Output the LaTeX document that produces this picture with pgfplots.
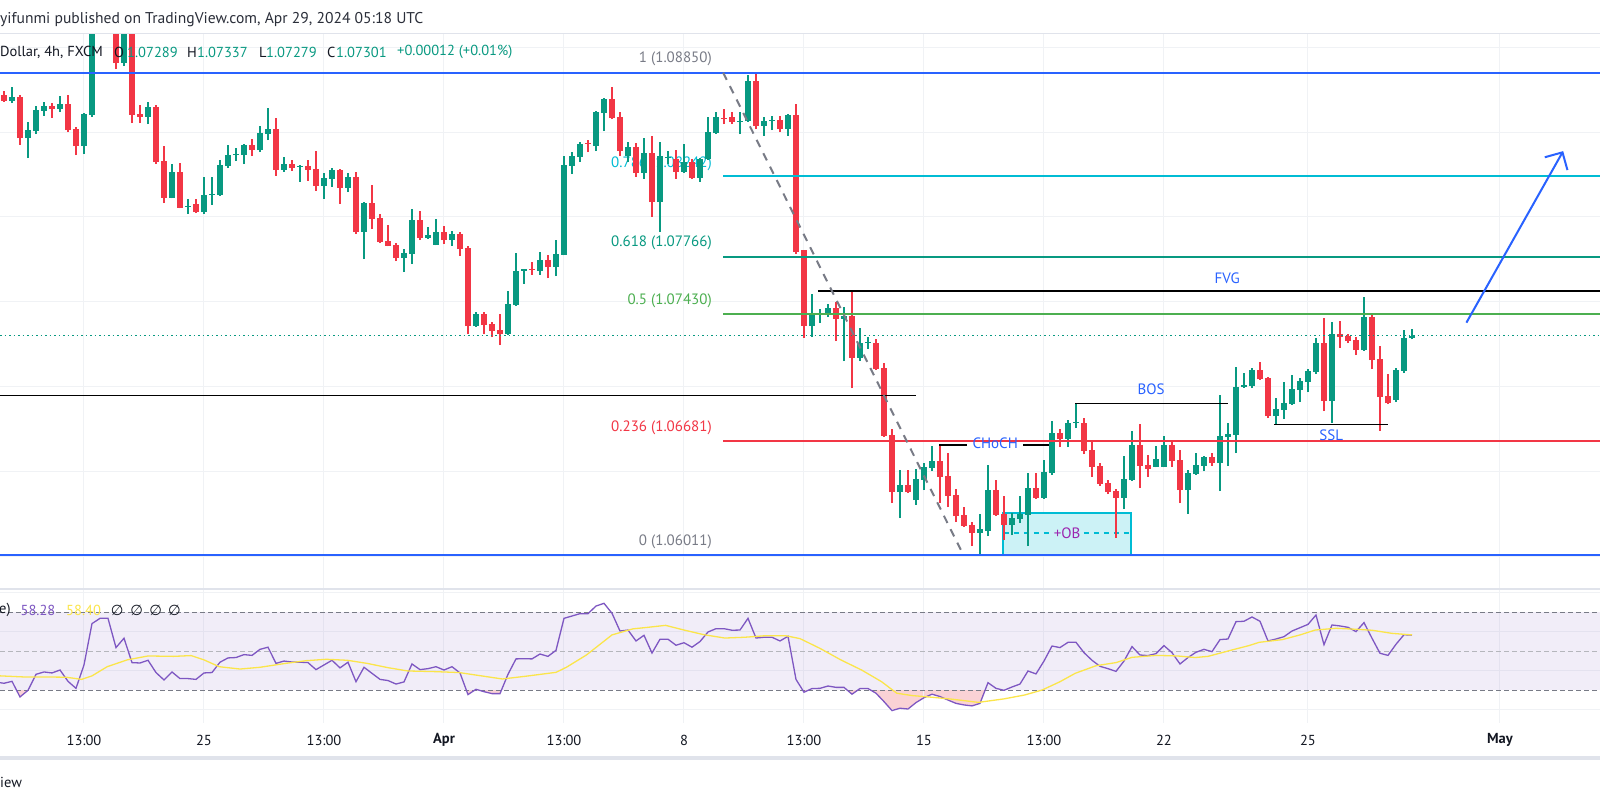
\documentclass[border=0pt]{standalone}
\usepackage{fontspec}
\setmainfont{PT Sans}
\newfontfamily\dejavu{DejaVu Sans}
\usepackage{pgfplots}
\pgfplotsset{compat=1.18}
\usepackage{pgfplotstable}
\usetikzlibrary{arrows.meta}

\definecolor{upc}{HTML}{089981}
\definecolor{dnc}{HTML}{F23645}
\definecolor{tvblue}{HTML}{2962FF}
\definecolor{fibgray}{HTML}{787B86}
\definecolor{fibcyan}{HTML}{00BCD4}
\definecolor{fibteal}{HTML}{089981}
\definecolor{fibgreen}{HTML}{4CAF50}
\definecolor{fibred}{HTML}{F23645}
\definecolor{gridc}{HTML}{F0F2F5}
\definecolor{sepc}{HTML}{E0E3EB}
\definecolor{txt}{HTML}{131722}
\definecolor{hdr}{HTML}{2A2E39}
\definecolor{rsic}{HTML}{7E57C2}
\definecolor{mac}{HTML}{FBE54A}
\definecolor{obfill}{HTML}{CCF2F6}
\definecolor{obpurple}{HTML}{9C27B0}
\definecolor{osfill}{HTML}{FAD2D5}
\definecolor{lblblue}{HTML}{2962FF}

\pgfplotstableread{
i O H L C
2 1.08683 1.08766 1.08671 1.08707
4 1.08465 1.08559 1.08347 1.08512
5 1.08506 1.08654 1.08488 1.08630
6 1.08624 1.08677 1.08595 1.08654
8 1.08636 1.08713 1.08618 1.08665
11 1.08418 1.08612 1.08370 1.08607
12 1.08601 1.09180 1.08589 1.09150
13 1.09150 1.09300 1.09120 1.09250
16 1.08906 1.09160 1.08889 1.09120
19 1.08589 1.08677 1.08547 1.08648
22 1.08112 1.08311 1.08110 1.08265
24 1.08059 1.08106 1.08018 1.08065
26 1.08029 1.08236 1.08018 1.08130
27 1.08130 1.08236 1.08071 1.08135
28 1.08130 1.08335 1.08124 1.08306
29 1.08300 1.08424 1.08288 1.08365
30 1.08365 1.08406 1.08329 1.08370
31 1.08365 1.08427 1.08311 1.08424
33 1.08394 1.08536 1.08382 1.08494
34 1.08488 1.08642 1.08453 1.08518
36 1.08277 1.08353 1.08265 1.08311
38 1.08294 1.08306 1.08206 1.08300
41 1.08183 1.08259 1.08106 1.08230
42 1.08224 1.08288 1.08177 1.08277
44 1.08171 1.08259 1.08147 1.08236
46 1.07911 1.08088 1.07752 1.08082
51 1.07758 1.07811 1.07675 1.07787
52 1.07781 1.08047 1.07722 1.07982
54 1.07876 1.07941 1.07873 1.07894
55 1.07835 1.07988 1.07832 1.07911
57 1.07864 1.07917 1.07829 1.07899
60 1.07357 1.07440 1.07354 1.07428
64 1.07310 1.07563 1.07307 1.07487
65 1.07481 1.07787 1.07478 1.07681
66 1.07681 1.07696 1.07605 1.07693
68 1.07681 1.07793 1.07658 1.07746
70 1.07705 1.07864 1.07652 1.07781
71 1.07776 1.08359 1.07773 1.08306
72 1.08300 1.08382 1.08253 1.08359
73 1.08353 1.08441 1.08323 1.08430
75 1.08418 1.08624 1.08388 1.08618
76 1.08612 1.08701 1.08506 1.08695
79 1.08359 1.08441 1.08323 1.08412
81 1.08259 1.08465 1.08224 1.08376
83 1.08088 1.08441 1.07911 1.08359
84 1.08347 1.08388 1.08311 1.08353
86 1.08265 1.08430 1.08259 1.08323
88 1.08230 1.08347 1.08206 1.08341
89 1.08341 1.08589 1.08338 1.08500
90 1.08494 1.08618 1.08491 1.08589
93 1.08559 1.08618 1.08488 1.08565
94 1.08565 1.08836 1.08562 1.08801
96 1.08536 1.08589 1.08477 1.08565
97 1.08565 1.08595 1.08512 1.08571
99 1.08518 1.08607 1.08477 1.08601
102 1.07357 1.07546 1.07292 1.07422
103 1.07428 1.07457 1.07375 1.07434
104 1.07422 1.07487 1.07410 1.07463
106 1.07399 1.07469 1.07151 1.07416
108 1.07169 1.07346 1.07151 1.07257
109 1.07257 1.07292 1.07222 1.07263
113 1.06379 1.06509 1.06226 1.06421
115 1.06332 1.06515 1.06303 1.06456
116 1.06450 1.06550 1.06391 1.06527
117 1.06521 1.06650 1.06503 1.06562
123 1.06138 1.06250 1.06011 1.06161
124 1.06149 1.06538 1.06120 1.06391
127 1.06185 1.06255 1.06126 1.06226
128 1.06220 1.06356 1.06196 1.06250
129 1.06244 1.06491 1.06061 1.06403
131 1.06344 1.06568 1.06341 1.06497
132 1.06491 1.06797 1.06480 1.06727
134 1.06692 1.06803 1.06644 1.06786
135 1.06786 1.06903 1.06756 1.06791
141 1.06344 1.06591 1.06279 1.06456
142 1.06450 1.06738 1.06447 1.06656
145 1.06527 1.06650 1.06524 1.06574
146 1.06527 1.06709 1.06524 1.06656
149 1.06391 1.06509 1.06250 1.06491
150 1.06485 1.06609 1.06480 1.06538
151 1.06533 1.06591 1.06503 1.06585
153 1.06550 1.06951 1.06385 1.06709
154 1.06703 1.06786 1.06533 1.06721
155 1.06715 1.07116 1.06609 1.06998
156 1.06998 1.07080 1.06995 1.07010
157 1.07004 1.07110 1.06992 1.07098
160 1.06827 1.06933 1.06780 1.06868
161 1.06862 1.07027 1.06809 1.06903
162 1.06897 1.07069 1.06894 1.06986
163 1.06980 1.07051 1.06909 1.07033
164 1.07027 1.07104 1.06968 1.07092
165 1.07086 1.07287 1.07074 1.07257
167 1.06915 1.07381 1.06786 1.07310
171 1.07216 1.07528 1.07213 1.07410
175 1.06921 1.07110 1.06909 1.07098
176 1.07092 1.07334 1.07080 1.07287
177 1.07289 1.07337 1.07279 1.07301
}\uptab

\pgfplotstableread{
i O H L C
1 1.08719 1.08742 1.08680 1.08683
3 1.08707 1.08719 1.08424 1.08465
7 1.08654 1.08671 1.08583 1.08636
9 1.08665 1.08719 1.08500 1.08512
10 1.08518 1.08530 1.08365 1.08418
14 1.09250 1.09320 1.09140 1.09180
15 1.09180 1.09220 1.08871 1.08906
17 1.09120 1.09160 1.08553 1.08601
18 1.08607 1.08660 1.08553 1.08589
20 1.08648 1.08660 1.08311 1.08323
21 1.08329 1.08418 1.08082 1.08112
23 1.08265 1.08317 1.08050 1.08053
25 1.08077 1.08106 1.08023 1.08029
32 1.08424 1.08459 1.08359 1.08394
35 1.08518 1.08583 1.08242 1.08277
37 1.08311 1.08335 1.08271 1.08288
39 1.08300 1.08335 1.08212 1.08277
40 1.08282 1.08388 1.08153 1.08183
43 1.08277 1.08280 1.08077 1.08171
45 1.08236 1.08265 1.07899 1.07911
47 1.08082 1.08188 1.07929 1.07988
48 1.07994 1.08018 1.07846 1.07852
49 1.07858 1.07953 1.07826 1.07829
50 1.07835 1.07846 1.07740 1.07758
53 1.07982 1.08035 1.07864 1.07876
56 1.07911 1.07947 1.07840 1.07864
58 1.07899 1.07911 1.07770 1.07811
59 1.07817 1.07829 1.07310 1.07357
61 1.07428 1.07440 1.07310 1.07363
62 1.07369 1.07381 1.07292 1.07328
63 1.07334 1.07428 1.07245 1.07310
67 1.07693 1.07734 1.07658 1.07687
69 1.07746 1.07776 1.07640 1.07705
74 1.08436 1.08453 1.08382 1.08430
77 1.08695 1.08766 1.08577 1.08583
78 1.08589 1.08618 1.08359 1.08388
80 1.08412 1.08436 1.08236 1.08259
82 1.08376 1.08477 1.08000 1.08088
85 1.08341 1.08394 1.08224 1.08265
87 1.08323 1.08341 1.08224 1.08230
91 1.08583 1.08636 1.08547 1.08577
92 1.08589 1.08618 1.08547 1.08559
95 1.08801 1.08850 1.08518 1.08536
98 1.08571 1.08595 1.08500 1.08518
100 1.08601 1.08665 1.07781 1.07793
101 1.07805 1.07808 1.07287 1.07357
105 1.07463 1.07499 1.07269 1.07399
107 1.07416 1.07563 1.06992 1.07169
110 1.07257 1.07281 1.07101 1.07104
111 1.07110 1.07139 1.06706 1.06709
112 1.06715 1.06750 1.06314 1.06379
114 1.06421 1.06509 1.06373 1.06379
118 1.06562 1.06656 1.06314 1.06468
119 1.06474 1.06609 1.06291 1.06356
120 1.06362 1.06397 1.06202 1.06238
121 1.06244 1.06291 1.06176 1.06179
122 1.06185 1.06202 1.06061 1.06138
125 1.06391 1.06450 1.06241 1.06244
126 1.06250 1.06356 1.06096 1.06185
130 1.06403 1.06491 1.06341 1.06344
133 1.06727 1.06750 1.06644 1.06692
136 1.06786 1.06815 1.06603 1.06621
137 1.06627 1.06674 1.06468 1.06527
138 1.06533 1.06550 1.06415 1.06427
139 1.06432 1.06450 1.06367 1.06379
140 1.06385 1.06397 1.06108 1.06344
143 1.06656 1.06780 1.06403 1.06533
144 1.06538 1.06597 1.06468 1.06515
147 1.06656 1.06685 1.06527 1.06562
148 1.06568 1.06627 1.06314 1.06391
152 1.06585 1.06609 1.06533 1.06550
158 1.07098 1.07145 1.07042 1.07045
159 1.07051 1.07057 1.06815 1.06827
166 1.07257 1.07405 1.06856 1.06915
168 1.07310 1.07387 1.07228 1.07292
169 1.07298 1.07310 1.07257 1.07269
170 1.07275 1.07292 1.07186 1.07216
172 1.07410 1.07434 1.07104 1.07157
173 1.07163 1.07239 1.06739 1.06939
174 1.06945 1.07074 1.06897 1.06903
}\dntab

\pgfplotstableread{
i r
0.5 33.9
1 33.6
2 34.6
3 26.6
4 30.0
5 38.2
6 39.4
7 38.9
8 40.4
9 34.6
10 31.0
11 43.0
12 64.2
13 66.9
14 66.9
15 51.9
16 56.7
17 44.2
18 44.0
19 45.4
20 39.1
21 35.3
22 39.4
23 36.0
24 36.0
25 35.6
26 38.9
27 39.1
28 44.4
29 46.6
30 46.8
31 48.3
32 47.9
33 51.0
34 52.1
35 43.8
36 45.0
37 44.5
38 44.4
39 44.2
40 40.6
41 43.0
42 45.4
43 41.5
44 44.4
45 34.4
46 41.8
47 38.7
48 35.6
49 35.0
50 33.2
51 34.3
52 43.5
53 40.6
54 41.1
55 42.1
56 40.4
57 42.1
58 38.9
59 27.8
60 30.5
61 29.3
62 28.3
63 28.3
64 38.2
65 46.1
66 46.2
67 46.1
68 48.6
69 47.4
70 50.5
71 66.9
72 68.1
73 69.3
74 69.3
75 73.2
76 74.6
77 69.5
78 60.4
79 60.9
80 55.3
81 58.2
82 49.1
83 56.2
84 56.2
85 53.1
86 54.4
87 52.1
88 55.0
89 59.9
90 61.6
91 61.6
92 60.8
93 60.9
94 66.9
95 56.8
96 57.2
97 57.2
98 55.3
99 57.7
100 35.6
101 29.0
102 30.9
103 31.0
104 32.2
105 31.5
106 31.5
107 28.0
108 30.9
109 30.9
110 28.5
111 24.2
112 19.6
113 20.8
114 20.4
115 23.7
116 26.2
117 28.0
118 26.8
119 25.0
120 23.3
121 22.5
122 22.0
123 23.3
124 33.9
125 31.0
126 30.0
127 31.7
128 33.2
129 39.9
130 38.4
131 45.0
132 52.7
133 51.9
134 54.6
135 54.6
136 49.3
137 45.4
138 42.3
139 41.1
140 39.7
141 45.0
142 52.4
143 48.1
144 47.8
145 48.8
146 52.9
147 49.3
148 43.5
149 46.8
150 49.5
151 51.0
152 49.8
153 56.0
154 56.3
155 65.2
156 65.4
157 67.6
158 65.4
159 55.3
160 56.3
161 57.5
162 60.4
163 62.1
164 63.8
165 68.6
166 53.4
167 63.5
168 63.0
169 62.3
170 60.1
171 64.7
172 56.7
173 49.0
174 47.9
175 53.6
176 58.5
177 58.28
}\rsitab

\pgfplotstableread{
i m
0.5 37.4
3.7 36.8
6.9 36.8
8.8 36.7
10.7 35.6
12.0 37.4
13.9 42.1
16.4 45.6
19.0 47.6
22.2 47.4
24.4 47.8
26.0 45.6
27.9 42.1
30.5 40.9
33.0 41.8
36.2 43.8
38.8 45.2
41.3 45.9
43.9 45.4
46.4 43.8
49.0 41.6
51.5 39.9
54.7 39.6
57.9 39.1
60.5 37.5
63.3 35.8
66.2 37.2
70.0 39.2
71.3 41.8
73.8 48.1
77.0 58.4
79.6 61.5
81.5 62.3
83.7 63.3
86.0 60.9
88.5 58.5
91.1 56.8
93.6 57.2
96.2 58.0
98.7 58.0
100.5 56.5
103.0 51.5
105.6 45.6
108.2 40.4
110.7 34.4
112.6 28.5
114.5 27.3
117.1 26.4
119.6 25.4
122.8 23.8
126.0 25.6
128.6 27.6
130.8 30.2
133.0 34.4
134.9 38.7
137.5 42.6
140.0 44.2
142.0 46.9
145.1 47.9
147.7 47.6
149.9 46.8
151.5 47.4
154.7 50.9
156.6 52.9
157.9 54.6
160.8 56.0
163.0 58.4
164.9 60.9
167.5 61.8
170.0 61.3
172.0 60.8
174.5 59.2
177.0 58.40
}\matab

\pgfplotsset{pane/.style={
  scale only axis, width=1600pt, anchor=south west,
  xmin=0.5, xmax=200.5,
  axis line style={draw=none},
  major tick length=0pt,
  scaled ticks=false,
  xtick={11,26,41,56,71,86,101,116,131,146,164,188},
  grid=major, major grid style={draw=gridc, line width=1pt},
},
candle/.style 2 args={draw=none, mark=none, error bars/.cd, y dir=plus, y explicit, error mark=none,
  error bar style={solid, line width=#1, draw=#2}},
}
\tikzset{
  lbl/.style={inner sep=0pt, font=\fontsize{15}{18}\selectfont},
  txt14/.style={inner sep=0pt, font=\fontsize{14.5}{17}\selectfont},
}

\begin{document}
\begin{tikzpicture}[x=1pt,y=1pt]
\useasboundingbox (0,0) rectangle (1600,802);
\fill[white] (0,0) rectangle (1600,802);
\begin{scope}
\clip (0,0) rectangle (1600,802);

% ---------------- main price pane ----------------
\begin{axis}[pane, at={(0pt,213pt)}, height=555pt,
  ymin=1.05808, ymax=1.09078,
  ytick={1.06,1.065,1.07,1.075,1.08,1.085,1.09},
  xticklabels={}, yticklabels={}]

% order block box
\fill[obfill] (axis cs:125.84,1.06011) rectangle (axis cs:141.87,1.06253);
\draw[fibcyan, line width=2pt] (axis cs:125.84,1.06011) rectangle (axis cs:141.87,1.06253);
\draw[fibcyan, line width=1.2pt, dash pattern=on 5pt off 5pt] (axis cs:126,1.06138) -- (axis cs:131.6,1.06138);
\draw[fibcyan, line width=1.2pt, dash pattern=on 5pt off 5pt] (axis cs:136,1.06138) -- (axis cs:141.75,1.06138);

% fib labels
\node[lbl, anchor=east, yshift=13.7pt, text=fibgray]  at (axis cs:89.5,1.08850) {1 (1.08850)};
\node[lbl, anchor=east, yshift=12.5pt, text=fibcyan]  at (axis cs:89.5,1.08242) {0.786 (1.08242)};
\node[lbl, anchor=east, yshift=13.5pt, text=fibteal]  at (axis cs:89.5,1.07766) {0.618 (1.07766)};
\node[lbl, anchor=east, yshift=13.0pt, text=fibgreen] at (axis cs:89.5,1.07430) {0.5 (1.07430)};
\node[lbl, anchor=east, yshift=13.5pt, text=fibred]   at (axis cs:89.5,1.06681) {0.236 (1.06681)};
\node[lbl, anchor=east, yshift=13.0pt, text=fibgray]  at (axis cs:89.5,1.06011) {0 (1.06011)};

% candles: wicks
\addplot[candle={1.2pt}{upc}]
  table[x=i, y=L, y error expr=\thisrow{H}-\thisrow{L}] {\uptab};
\addplot[candle={1.2pt}{dnc}]
  table[x=i, y=L, y error expr=\thisrow{H}-\thisrow{L}] {\dntab};
% candles: bodies
\addplot[candle={5.3pt}{upc}]
  table[x=i, y=O, y error expr=\thisrow{C}-\thisrow{O}] {\uptab};
\addplot[candle={5.3pt}{dnc}]
  table[x=i, y=C, y error expr=\thisrow{O}-\thisrow{C}] {\dntab};

% horizontal levels
\draw[tvblue, line width=2pt] (axis cs:0.5,1.08850) -- (axis cs:200.5,1.08850);
\draw[tvblue, line width=2pt] (axis cs:0.5,1.06011) -- (axis cs:200.5,1.06011);
\draw[fibcyan, line width=2pt] (axis cs:90.9,1.08242) -- (axis cs:200.5,1.08242);
\draw[fibteal, line width=2pt] (axis cs:90.9,1.07766) -- (axis cs:200.5,1.07766);
\draw[fibgreen, line width=2pt] (axis cs:90.9,1.07430) -- (axis cs:200.5,1.07430);
\draw[fibred, line width=2pt] (axis cs:90.9,1.06681) -- (axis cs:200.5,1.06681);
\draw[black, line width=2pt] (axis cs:102.75,1.07563) -- (axis cs:200.5,1.07563);
\draw[black, line width=1pt] (axis cs:0.5,1.06949) -- (axis cs:115,1.06949);
\draw[black, line width=1.2pt] (axis cs:117.9,1.06656) -- (axis cs:121.4,1.06656);
\draw[black, line width=1.2pt] (axis cs:128.4,1.06656) -- (axis cs:131.6,1.06656);
\draw[black, line width=1.2pt] (axis cs:134.9,1.06902) -- (axis cs:154,1.06902);
\draw[black, line width=1.2pt] (axis cs:159.75,1.06778) -- (axis cs:174,1.06778);
% last price line
\draw[upc, line width=1pt, dash pattern=on 1.5pt off 3pt] (axis cs:0.5,1.07301) -- (axis cs:200.5,1.07301);
% fib trend line
\draw[fibgray, line width=2pt, dash pattern=on 8pt off 7pt] (axis cs:90.9,1.08850) -- (axis cs:120.9,1.06011);
% projection arrow
\draw[tvblue, line width=2pt, -{Straight Barb[length=13pt,width=26pt,line width=2pt]}]
  (axis cs:183.8,1.07377) -- (axis cs:195.9,1.08388);

% annotation labels
\node[lbl, text=lblblue] at (axis cs:153.9,1.07640) {FVG};
\node[lbl, text=lblblue] at (axis cs:144.4,1.06986) {BOS};
\node[lbl, text=lblblue] at (axis cs:124.9,1.06668) {CHoCH};
\node[lbl, text=lblblue] at (axis cs:166.9,1.06715) {SSL};
\node[lbl, text=obpurple] at (axis cs:133.9,1.06138) {+OB};
\end{axis}

% ---------------- RSI oversold fill (lower part of RSI pane) ----------------
\begin{axis}[at={(0pt,79pt)}, anchor=south west, scale only axis,
  width=1600pt, height=32.70pt, xmin=0.5, xmax=200.5, ymin=13.23, ymax=30, hide axis]
\addplot[fill=osfill, draw=none] table[x=i, y=r] {\rsitab}
  -- (axis cs:177,45) -- (axis cs:0.5,45) -- cycle;
\end{axis}

% ---------------- RSI pane ----------------
\begin{axis}[pane, at={(0pt,79pt)}, height=134pt,
  ymin=13.23, ymax=81.95,
  ytick={20,40,60,80}, yticklabels={},
  xticklabels={13:00,25,13:00,\textbf{Apr},13:00,8,13:00,15,13:00,22,25,\textbf{May}},
  xticklabel style={anchor=center, yshift=-17pt, font=\fontsize{14.5}{17}\selectfont, text=txt}]
\fill[rsic, fill opacity=0.1] (axis cs:0.5,30) rectangle (axis cs:200.5,70);
\draw[fibgray, line width=1pt, dash pattern=on 5pt off 3pt] (axis cs:0.5,70) -- (axis cs:200.5,70);
\draw[fibgray!55, line width=1pt, dash pattern=on 5pt off 3pt] (axis cs:0.5,50) -- (axis cs:200.5,50);
\draw[fibgray, line width=1pt, dash pattern=on 5pt off 3pt] (axis cs:0.5,30) -- (axis cs:200.5,30);
\addplot[rsic, line width=1.3pt] table[x=i, y=r] {\rsitab};
\addplot[mac, line width=1.3pt] table[x=i, y=m] {\matab};
\end{axis}

% separators
\fill[sepc] (0,767.5) rectangle (1600,769);
\fill[sepc] (0,212) rectangle (1600,214);
\fill[sepc] (0,42.3) rectangle (1600,45.5);

% header
\node[inner sep=0pt, font=\fontsize{15.6}{18}\selectfont, anchor=west, text=hdr] at (0,782) {yifunmi published on TradingView.com, Apr 29, 2024 05:18 UTC};
% legend row
\node[txt14, anchor=west, text=txt] at (0,750) {Dollar, 4h, FXCM};
\node[txt14, anchor=west, text=txt] at (114,750) {O};
\node[txt14, anchor=west, text=upc] at (127,750) {1.07289};
\node[txt14, anchor=west, text=txt] at (187,750) {H};
\node[txt14, anchor=west, text=upc] at (197,750) {1.07337};
\node[txt14, anchor=west, text=txt] at (259,750) {L};
\node[txt14, anchor=west, text=upc] at (266,750) {1.07279};
\node[txt14, anchor=west, text=txt] at (327,750) {C};
\node[txt14, anchor=west, text=upc] at (336,750) {1.07301};
\node[txt14, anchor=west, text=upc] at (397,750) {+0.00012 (+0.01\%)};
% RSI legend
\node[txt14, anchor=west, text=txt] at (-1,192) {e)};
\node[txt14, anchor=west, text=rsic] at (20.4,192) {58.28};
\node[txt14, anchor=west, text=mac] at (66,192) {58.40};
\node[txt14, text=txt] at (117.3,192) {\dejavu ∅};
\node[txt14, text=txt] at (136.7,192) {\dejavu ∅};
\node[txt14, text=txt] at (155.6,192) {\dejavu ∅};
\node[txt14, text=txt] at (174.5,192) {\dejavu ∅};
% bottom text
\node[txt14, anchor=west, text=txt] at (0,20) {iew};
\end{scope}
\end{tikzpicture}
\end{document}
